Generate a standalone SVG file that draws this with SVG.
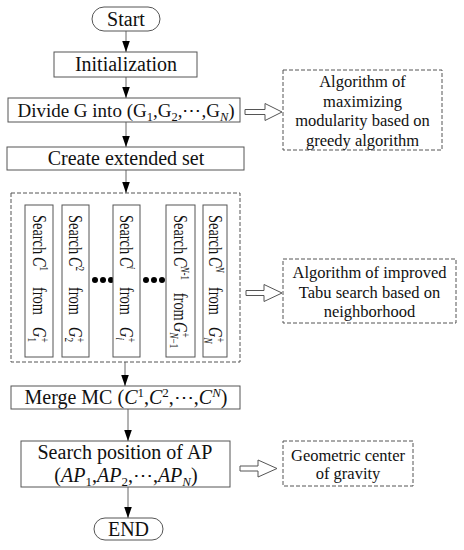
<svg xmlns="http://www.w3.org/2000/svg" width="464" height="550" viewBox="0 0 464 550" font-family="Liberation Serif, serif">
<style>
text{font-family:'Liberation Serif',serif;fill:#111}
.t20{font-size:20px;text-anchor:middle}
.t16{font-size:16.5px;text-anchor:middle}
.v{font-size:18px}
.box{fill:#fff;stroke:#555;stroke-width:1}
.dash{fill:none;stroke:#555;stroke-width:1;stroke-dasharray:4 2}
.conn{stroke:#666;stroke-width:1;fill:none}
.hollow{fill:#fff;stroke:#555;stroke-width:1}
.i{font-style:italic}
</style>
<defs>
<marker id="ah" markerUnits="userSpaceOnUse" markerWidth="11" markerHeight="16" refX="16" refY="5.5" orient="auto" viewBox="0 0 16 11">
<path d="M0,0 L16,5.5 L0,11 z" fill="#000"/>
</marker>
</defs>
<rect width="464" height="550" fill="#fff"/>

<g id="connectors">
<line class="conn" x1="126" y1="31" x2="126" y2="52" marker-end="url(#ah)"/>
<line class="conn" x1="126" y1="77" x2="126" y2="98" marker-end="url(#ah)"/>
<line class="conn" x1="126" y1="122" x2="126" y2="147" marker-end="url(#ah)"/>
<line class="conn" x1="126" y1="170" x2="126" y2="193" marker-end="url(#ah)"/>
<line class="conn" x1="125" y1="362" x2="125" y2="386" marker-end="url(#ah)"/>
<line class="conn" x1="128" y1="409" x2="128" y2="441" marker-end="url(#ah)"/>
<line class="conn" x1="128" y1="487" x2="128" y2="518" marker-end="url(#ah)"/>
<path class="hollow" d="M245,109.5 h20 v-6 l17,8.5 l-17,8.5 v-6 h-20 z"/>
<path class="hollow" d="M246,290.5 h18 v-6 l18,8.5 l-18,8.5 v-6 h-18 z"/>
<path class="hollow" d="M240,466 h18 v-6 l19,8.5 l-19,8.5 v-6 h-18 z"/>
</g>

<g id="start">
<rect class="box" x="92" y="7" width="68" height="24" rx="12"/>
<text class="t20" x="126" y="26">Start</text>
</g>

<g id="init">
<rect class="box" x="54" y="52" width="143" height="25"/>
<text class="t20" x="126" y="71">Initialization</text>
</g>

<g id="divide">
<rect class="box" x="8" y="98" width="232" height="24"/>
<text class="t20" x="126" y="117" font-size="19" style="font-size:19px">Divide G into (G<tspan font-size="12.5" dy="4">1</tspan><tspan dy="-4">,G</tspan><tspan font-size="12.5" dy="4">2</tspan><tspan dy="-4">,⋯,G</tspan><tspan font-size="12.5" dy="4" class="i">N</tspan><tspan dy="-4">)</tspan></text>
</g>

<g id="note1">
<rect class="dash" x="283" y="70" width="159" height="80"/>
<text class="t16" x="362.5" y="87">Algorithm of</text>
<text class="t16" x="362.5" y="106.5">maximizing</text>
<text class="t16" x="362.5" y="126">modularity based on</text>
<text class="t16" x="362.5" y="145.5">greedy algorithm</text>
</g>

<g id="extended">
<rect class="box" x="7" y="147" width="237" height="23"/>
<text class="t20" x="126" y="165">Create extended set</text>
</g>

<g id="search-group">
<rect class="dash" x="11" y="193" width="229" height="169"/>
<circle cx="95" cy="280" r="3" fill="#000"/>
<circle cx="103" cy="280" r="3" fill="#000"/>
<circle cx="111" cy="280" r="3" fill="#000"/>
<circle cx="146" cy="280" r="3" fill="#000"/>
<circle cx="154" cy="280" r="3" fill="#000"/>
<circle cx="162" cy="280" r="3" fill="#000"/>
</g>

<g id="search1">
<rect class="box" x="25" y="205" width="28" height="152"/>
<text class="v" transform="translate(39,0) rotate(90) scale(0.8,1)" y="6"><tspan x="268.75">Search</tspan><tspan x="321.25" class="i">C</tspan><tspan x="333" dy="-7" font-size="11.5">1</tspan><tspan x="358.75" dy="7">from</tspan><tspan x="408.75" class="i">G</tspan><tspan x="421.75" dy="5" font-size="11.5">1</tspan><tspan x="421.75" dy="-12" font-size="11.5">+</tspan></text>
</g>

<g id="search2">
<rect class="box" x="62" y="205" width="27" height="152"/>
<text class="v" transform="translate(75.5,0) rotate(90) scale(0.8,1)" y="6"><tspan x="268.75">Search</tspan><tspan x="321.25" class="i">C</tspan><tspan x="333" dy="-7" font-size="11.5">2</tspan><tspan x="358.75" dy="7">from</tspan><tspan x="408.75" class="i">G</tspan><tspan x="421.75" dy="5" font-size="11.5">2</tspan><tspan x="421.75" dy="-12" font-size="11.5">+</tspan></text>
</g>

<g id="searchi">
<rect class="box" x="113" y="205" width="27" height="152"/>
<text class="v" transform="translate(126.5,0) rotate(90) scale(0.8,1)" y="6"><tspan x="268.75">Search</tspan><tspan x="321.25" class="i">C</tspan><tspan x="333" dy="-7" font-size="11.5" class="i">i</tspan><tspan x="358.75" dy="7">from</tspan><tspan x="408.75" class="i">G</tspan><tspan x="421.75" dy="5" font-size="11.5" class="i">i</tspan><tspan x="421.75" dy="-12" font-size="11.5">+</tspan></text>
</g>

<g id="searchN1">
<rect class="box" x="166" y="205" width="29" height="152"/>
<text class="v" transform="translate(180.5,0) rotate(90) scale(0.8,1)" y="6"><tspan x="268.75">Search</tspan><tspan x="321.25" class="i">C</tspan><tspan x="333" dy="-7" font-size="11.5"><tspan class="i">N</tspan>-1</tspan><tspan x="366" dy="7">from</tspan><tspan x="402.5" class="i">G</tspan><tspan x="415.5" dy="5" font-size="11.5"><tspan class="i">N</tspan>−1</tspan><tspan x="415.5" dy="-12" font-size="11.5">+</tspan></text>
</g>

<g id="searchN">
<rect class="box" x="203" y="205" width="24" height="152"/>
<text class="v" transform="translate(215,0) rotate(90) scale(0.8,1)" y="6"><tspan x="268.75">Search</tspan><tspan x="321.25" class="i">C</tspan><tspan x="333" dy="-7" font-size="11.5" class="i">N</tspan><tspan x="358.75" dy="7">from</tspan><tspan x="408.75" class="i">G</tspan><tspan x="421.75" dy="5" font-size="11.5" class="i">N</tspan><tspan x="421.75" dy="-12" font-size="11.5">+</tspan></text>
</g>

<g id="note2">
<rect class="dash" x="283" y="259" width="173" height="64"/>
<text class="t16" x="369.5" y="278">Algorithm of improved</text>
<text class="t16" x="369.5" y="297.5">Tabu search based on</text>
<text class="t16" x="369.5" y="317">neighborhood</text>
</g>

<g id="merge">
<rect class="box" x="11" y="386" width="229" height="23"/>
<text class="t20" x="126" y="404">Merge MC (<tspan class="i">C</tspan><tspan font-size="13" dy="-7">1</tspan><tspan dy="7">,</tspan><tspan class="i">C</tspan><tspan font-size="13" dy="-7">2</tspan><tspan dy="7">,⋯,</tspan><tspan class="i">C</tspan><tspan font-size="13" dy="-7" class="i">N</tspan><tspan dy="7">)</tspan></text>
</g>

<g id="position">
<rect class="box" x="21" y="441" width="209" height="46"/>
<text class="t20" x="125" y="459">Search position of AP</text>
<text class="t20" x="126" y="482">(<tspan class="i">AP</tspan><tspan font-size="13" dy="4">1</tspan><tspan dy="-4">,</tspan><tspan class="i">AP</tspan><tspan font-size="13" dy="4">2</tspan><tspan dy="-4">,⋯,</tspan><tspan class="i">AP</tspan><tspan font-size="13" dy="4" class="i">N</tspan><tspan dy="-4">)</tspan></text>
</g>

<g id="note3">
<rect class="dash" x="283" y="441" width="130" height="45"/>
<text class="t16" x="348" y="461">Geometric center</text>
<text class="t16" x="348" y="479">of gravity</text>
</g>

<g id="end">
<rect class="box" x="94" y="518" width="69" height="22" rx="11"/>
<text class="t20" x="128.5" y="536">END</text>
</g>
</svg>
